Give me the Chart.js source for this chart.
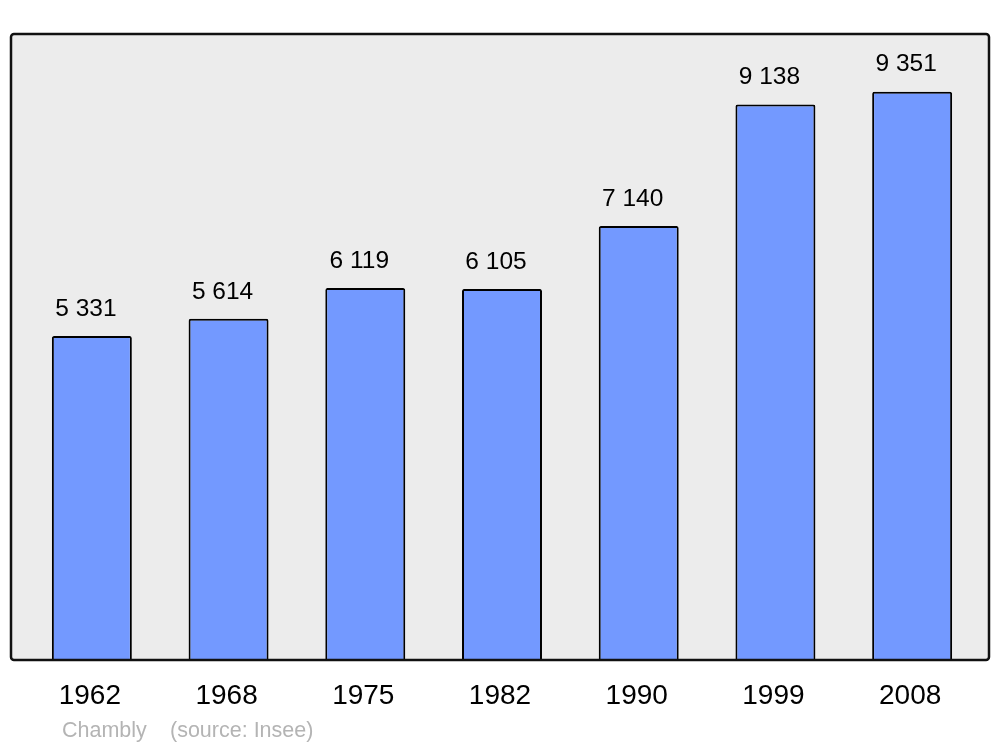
<!DOCTYPE html>
<html>
<head>
<meta charset="utf-8">
<script src="https://cdn.jsdelivr.net/npm/chart.js@4/dist/chart.umd.min.js"></script>
<style>
  html, body { margin: 0; padding: 0; background: #fff; }
  #wrap { width: 1000px; height: 747px; }
</style>
</head>
<body>
<div id="wrap"><canvas id="grafico" width="1000" height="747"></canvas></div>
<script>
const annees = ["1962", "1968", "1975", "1982", "1990", "1999", "2008"];
const population = [5331, 5614, 6119, 6105, 7140, 9138, 9351];
const commune = "Chambly";
const source = "(source: Insee)";

function formatFR(n) {
  return String(n).replace(/\B(?=(\d{3})+(?!\d))/g, " ");
}

// fond gris + cadre
const cadre = {
  id: "cadre",
  beforeDatasetsDraw(chart) {
    const { ctx, chartArea: a } = chart;
    ctx.save();
    ctx.fillStyle = "#ececec";
    ctx.beginPath();
    ctx.roundRect(a.left - 12.5, a.top, a.right - a.left + 21, a.bottom - a.top, 3);
    ctx.fill();
    ctx.restore();
  },
  afterDatasetsDraw(chart) {
    const { ctx, chartArea: a } = chart;
    ctx.save();
    ctx.strokeStyle = "#111";
    ctx.lineWidth = 2.5;
    ctx.beginPath();
    ctx.roundRect(a.left - 12.5, a.top, a.right - a.left + 21, a.bottom - a.top, 3);
    ctx.stroke();

    // valeurs au-dessus des barres
    const meta = chart.getDatasetMeta(0);
    ctx.fillStyle = "#000";
    ctx.textAlign = "center";
    ctx.textBaseline = "middle";
    ctx.font = "24.5px 'Liberation Sans', Arial, sans-serif";
    meta.data.forEach((bar, i) => {
      ctx.fillText(formatFR(population[i]), bar.x - 6, bar.y - 27);
    });

    // années
    const xs = chart.scales.x;
    ctx.font = "28px 'Liberation Sans', Arial, sans-serif";
    annees.forEach((an, i) => {
      ctx.fillText(an, xs.getPixelForValue(i) - 2, a.bottom + 36);
    });

    // pied
    ctx.fillStyle = "#b4b4b4";
    ctx.textAlign = "left";
    ctx.font = "21.5px 'Liberation Sans', Arial, sans-serif";
    ctx.fillText(commune, 62, a.bottom + 71);
    ctx.fillText(source, 170, a.bottom + 71);
    ctx.restore();
  }
};

new Chart(document.getElementById("grafico").getContext("2d"), {
  type: "bar",
  data: {
    labels: annees,
    datasets: [{
      data: population,
      backgroundColor: "#7399ff",
      borderColor: "#000",
      borderWidth: 2,
      borderSkipped: "bottom",
      borderRadius: { topLeft: 2, topRight: 2, bottomLeft: 0, bottomRight: 0 },
      barPercentage: 0.585,
      categoryPercentage: 1
    }]
  },
  options: {
    responsive: false,
    animation: false,
    layout: { padding: { left: 23.5, right: 19.5, top: 34, bottom: 87 } },
    plugins: { legend: { display: false }, tooltip: { enabled: false } },
    scales: {
      x: { display: false },
      y: { display: false, min: 0, max: 10300 }
    }
  },
  plugins: [cadre]
});
</script>
</body>
</html>
